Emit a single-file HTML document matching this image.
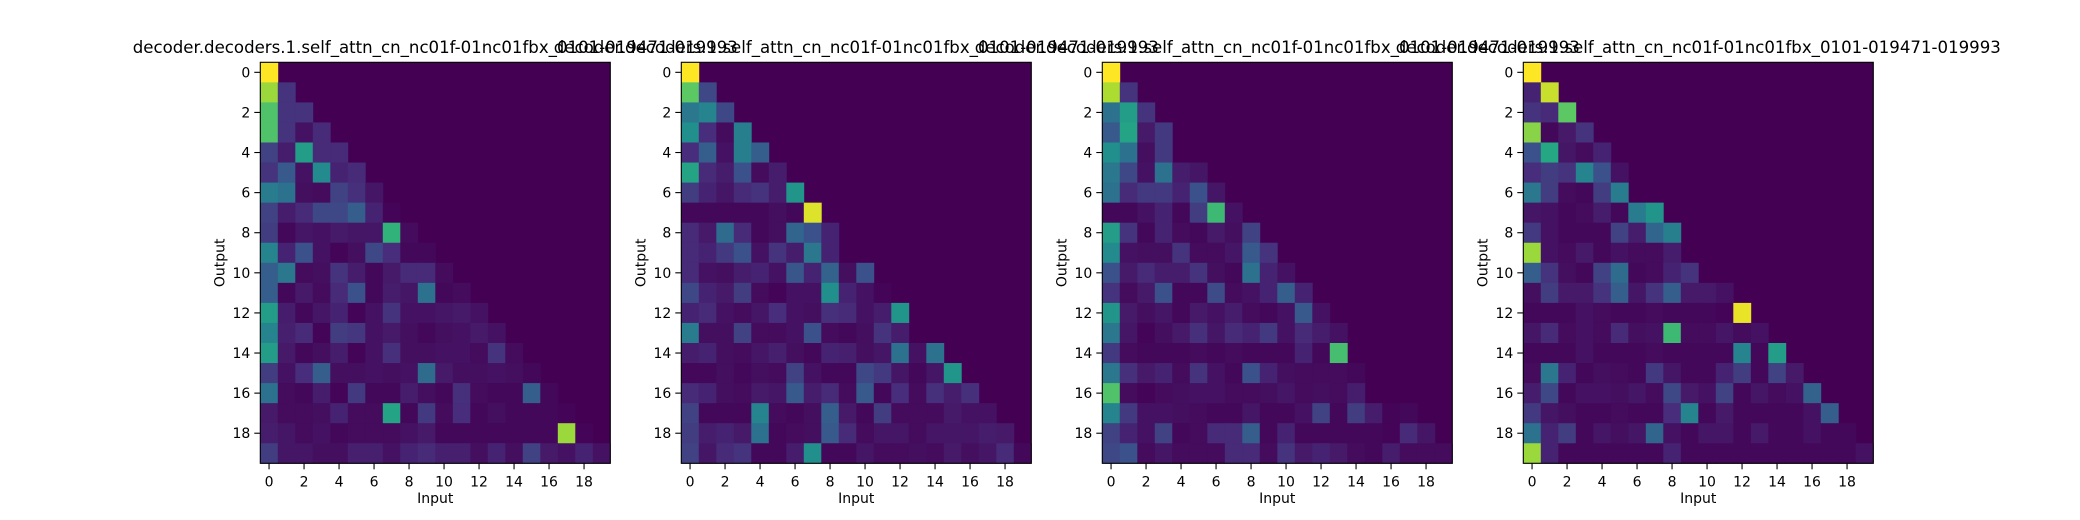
<!DOCTYPE html>
<html><head><meta charset="utf-8">
<style>
html,body{margin:0;padding:0;background:#fff;}
svg{display:block;font-family:"DejaVu Sans","Liberation Sans",sans-serif;}
</style></head>
<body>
<svg id="fig" width="2080" height="520" viewBox="0 0 2080 520" xmlns="http://www.w3.org/2000/svg"></svg>
<script>
const titles = [
 "decoder.decoders.1.self_attn_cn_nc01f-01nc01fbx_0101-019471-019993",
 "decoder.decoders.1.self_attn_cn_nc01f-01nc01fbx_0101-019471-019993",
 "decoder.decoders.1.self_attn_cn_nc01f-01nc01fbx_0101-019471-019993",
 "decoder.decoders.1.self_attn_cn_nc01f-01nc01fbx_0101-019471-019993"
];
const tickLabels = [0,2,4,6,8,10,12,14,16,18];
const attn1 = [
[1],
[0.85,0.15],
[0.72,0.15,0.15],
[0.72,0.15,0.05,0.12],
[0.2,0.08,0.55,0.12,0.12],
[0.15,0.28,0.05,0.48,0.1,0.12],
[0.42,0.38,0.04,0.03,0.2,0.14,0.06],
[0.2,0.08,0.12,0.22,0.22,0.3,0.1,0.01],
[0.18,0.02,0.06,0.05,0.07,0.06,0.06,0.65,0.03],
[0.45,0.1,0.25,0.05,0.01,0.04,0.22,0.13,0.02,0.02],
[0.3,0.4,0.03,0.04,0.15,0.08,0.02,0.07,0.12,0.12,0.03],
[0.3,0.02,0.07,0.03,0.12,0.25,0.02,0.08,0.06,0.38,0.02,0.03],
[0.55,0.08,0.02,0.06,0.1,0.01,0.05,0.15,0.05,0.05,0.06,0.07,0.05],
[0.45,0.09,0.12,0.01,0.18,0.16,0.05,0.07,0.04,0.02,0.04,0.05,0.07,0.05],
[0.55,0.07,0.02,0.04,0.08,0.01,0.05,0.14,0.04,0.04,0.05,0.05,0.03,0.15,0.03],
[0.18,0.05,0.13,0.3,0.04,0.04,0.05,0.04,0.05,0.35,0.07,0.04,0.04,0.05,0.04,0.02],
[0.38,0.03,0.02,0.08,0.01,0.17,0.02,0.02,0.08,0.04,0.02,0.14,0.03,0.02,0.02,0.3,0.02],
[0.07,0.03,0.03,0.04,0.1,0.03,0.03,0.58,0.02,0.17,0.03,0.13,0.02,0.04,0.02,0.02,0.02,0.01],
[0.08,0.06,0.03,0.05,0.02,0.03,0.03,0.03,0.05,0.07,0.02,0.02,0.02,0.02,0.02,0.02,0.02,0.85,0.01],
[0.18,0.06,0.06,0.04,0.04,0.09,0.09,0.05,0.1,0.12,0.09,0.09,0.04,0.1,0.04,0.2,0.07,0.05,0.1,0.05]
];
const attn2 = [
[1],
[0.75,0.22],
[0.4,0.45,0.22],
[0.5,0.13,0.03,0.43],
[0.13,0.3,0.05,0.43,0.3],
[0.58,0.12,0.08,0.25,0.03,0.08],
[0.18,0.1,0.06,0.12,0.15,0.08,0.52],
[0.02,0.02,0.02,0.02,0.02,0.04,0.02,0.95],
[0.12,0.07,0.35,0.12,0.02,0.04,0.33,0.25,0.1],
[0.12,0.1,0.17,0.25,0.05,0.15,0.08,0.4,0.1],
[0.12,0.05,0.04,0.08,0.1,0.05,0.27,0.1,0.32,0.04,0.25],
[0.22,0.1,0.07,0.18,0.03,0.01,0.05,0.05,0.5,0.1,0.05,0.01],
[0.1,0.12,0.05,0.03,0.06,0.13,0.05,0.04,0.14,0.12,0.05,0.08,0.52],
[0.42,0.04,0.04,0.2,0.03,0.03,0.05,0.25,0.03,0.02,0.04,0.15,0.08],
[0.08,0.1,0.04,0.03,0.06,0.09,0.04,0.02,0.1,0.09,0.04,0.06,0.38,0.05,0.38],
[0.02,0.02,0.04,0.02,0.04,0.03,0.2,0.05,0.02,0.02,0.22,0.17,0.06,0.02,0.06,0.52],
[0.12,0.1,0.04,0.03,0.07,0.06,0.28,0.08,0.12,0.03,0.28,0.02,0.13,0.03,0.14,0.08,0.14],
[0.2,0.02,0.02,0.02,0.45,0.03,0.02,0.04,0.3,0.07,0.02,0.18,0.03,0.03,0.03,0.07,0.05,0.05],
[0.18,0.08,0.1,0.07,0.38,0.02,0.03,0.04,0.28,0.12,0.03,0.06,0.06,0.03,0.06,0.06,0.06,0.08,0.07],
[0.2,0.06,0.12,0.15,0.02,0.02,0.08,0.5,0.02,0.02,0.06,0.03,0.03,0.04,0.03,0.07,0.04,0.06,0.12,0.02]
];
const attn3 = [
[1],
[0.88,0.15],
[0.38,0.55,0.15],
[0.28,0.58,0.07,0.17],
[0.5,0.38,0.04,0.17],
[0.4,0.22,0.05,0.38,0.08,0.06],
[0.38,0.12,0.17,0.17,0.1,0.25,0.06],
[0.02,0.02,0.05,0.1,0.02,0.18,0.68,0.05],
[0.55,0.15,0.02,0.1,0.03,0.02,0.07,0.04,0.2],
[0.48,0.05,0.04,0.04,0.15,0.03,0.03,0.06,0.28,0.15],
[0.25,0.07,0.12,0.08,0.08,0.15,0.04,0.02,0.38,0.1,0.05],
[0.15,0.03,0.07,0.25,0.02,0.02,0.23,0.03,0.05,0.1,0.3,0.1],
[0.52,0.07,0.04,0.06,0.02,0.07,0.05,0.08,0.03,0.02,0.05,0.28,0.05],
[0.4,0.06,0.01,0.04,0.07,0.14,0.06,0.12,0.1,0.17,0.05,0.12,0.08,0.05],
[0.17,0.03,0.02,0.02,0.02,0.03,0.02,0.03,0.02,0.02,0.02,0.1,0.02,0.7],
[0.4,0.14,0.07,0.1,0.03,0.15,0.05,0.02,0.25,0.1,0.04,0.03,0.03,0.03,0.02],
[0.72,0.03,0.01,0.03,0.04,0.05,0.05,0.03,0.03,0.04,0.06,0.03,0.04,0.03,0.08],
[0.45,0.17,0.05,0.05,0.04,0.03,0.02,0.02,0.06,0.02,0.02,0.05,0.2,0.02,0.18,0.08,0.01,0.02],
[0.2,0.1,0.05,0.2,0.02,0.03,0.12,0.12,0.3,0.02,0.1,0.02,0.02,0.02,0.02,0.02,0.01,0.12,0.06],
[0.22,0.25,0.03,0.06,0.03,0.03,0.03,0.12,0.12,0.03,0.15,0.07,0.1,0.07,0.03,0.02,0.08,0.03,0.03,0.03]
];
const attn4 = [
[1],
[0.1,0.92],
[0.15,0.12,0.75],
[0.82,0.02,0.07,0.15],
[0.25,0.6,0.06,0.03,0.1],
[0.13,0.18,0.15,0.45,0.25,0.05],
[0.4,0.18,0.03,0.02,0.18,0.42],
[0.06,0.05,0.02,0.03,0.08,0.02,0.42,0.52],
[0.17,0.05,0.02,0.02,0.02,0.2,0.08,0.33,0.43],
[0.85,0.05,0.03,0.07,0.02,0.05,0.03,0.03,0.08],
[0.3,0.15,0.04,0.02,0.2,0.35,0.02,0.03,0.1,0.15],
[0.04,0.18,0.07,0.07,0.15,0.3,0.06,0.15,0.3,0.07,0.07,0.05],
[0.02,0.02,0.02,0.05,0.03,0.02,0.02,0.03,0.02,0.02,0.02,0.01,0.97],
[0.06,0.12,0.03,0.05,0.03,0.12,0.04,0.05,0.68,0.03,0.03,0.06,0.03,0.05],
[0.02,0.02,0.02,0.05,0.02,0.02,0.02,0.03,0.02,0.02,0.02,0.02,0.45,0.02,0.55],
[0.03,0.4,0.1,0.02,0.04,0.03,0.02,0.17,0.06,0.02,0.02,0.1,0.18,0.02,0.2,0.07],
[0.08,0.22,0.02,0.05,0.05,0.04,0.06,0.03,0.22,0.07,0.05,0.2,0.02,0.06,0.03,0.05,0.32],
[0.17,0.06,0.04,0.02,0.02,0.03,0.02,0.02,0.13,0.45,0.02,0.07,0.02,0.02,0.02,0.02,0.05,0.3],
[0.38,0.1,0.18,0.02,0.06,0.04,0.06,0.33,0.05,0.02,0.06,0.06,0.02,0.07,0.02,0.02,0.05,0.02,0.02],
[0.85,0.1,0.02,0.02,0.02,0.02,0.02,0.02,0.1,0.02,0.02,0.02,0.02,0.02,0.02,0.02,0.02,0.02,0.02,0.05]
];
const panels = [attn1, attn2, attn3, attn4];

const N = 20;
const axLefts = [260.3, 681.3, 1102.3, 1523.3];
const axTop = 62.3, axW = 350, axH = 401;
const VIR = [[0,[68,1,84]],[0.125,[71,44,122]],[0.25,[59,81,139]],[0.375,[44,113,142]],[0.5,[33,144,141]],[0.625,[39,173,129]],[0.75,[92,200,99]],[0.875,[170,220,50]],[1,[253,231,37]]];
function viridis(t){
  t=Math.max(0,Math.min(1,t));
  for(let i=1;i<VIR.length;i++){
    if(t<=VIR[i][0]){
      const [t0,c0]=VIR[i-1],[t1,c1]=VIR[i];const f=(t-t0)/(t1-t0);
      return 'rgb('+c0.map((c,k)=>Math.round(c+(c1[k]-c)*f)).join(',')+')';
    }
  }
  return 'rgb(253,231,37)';
}
const NS='http://www.w3.org/2000/svg';
const svg=document.getElementById('fig');
function mk(tag,attrs,parent){const e=document.createElementNS(NS,tag);for(const k in attrs)e.setAttribute(k,attrs[k]);(parent||svg).appendChild(e);return e;}

panels.forEach((data,p)=>{
  const x0=axLefts[p];
  const cw=axW/N, ch=axH/N;
  const xs=i=>x0+i*cw, ys=j=>axTop+j*ch;
  const g=mk('g',{});
  
  
  let maxV=0;data.forEach(r=>r.forEach(v=>{if(v>maxV)maxV=v;}));
  const bg=mk('rect',{x:x0,y:axTop,width:axW,height:axH,fill:viridis(0)},g);
  
  
  data.forEach((row,j)=>row.forEach((v,i)=>{
    const r=mk('rect',{x:xs(i).toFixed(2),y:ys(j).toFixed(2),width:(cw+0.4).toFixed(2),height:(ch+0.4).toFixed(2),fill:viridis(v/maxV)},g);
    
    
  }));
  const fr=mk('rect',{x:x0,y:axTop,width:axW,height:axH,fill:'none',stroke:'#000','stroke-width':1.1},g);
  
  
  tickLabels.forEach(t=>{
    const cx=xs(t)+cw/2, cy=ys(t)+ch/2;
    mk('line',{x1:cx,y1:axTop+axH,x2:cx,y2:axTop+axH+6,stroke:'#000','stroke-width':1.1},g);
    const tx=mk('text',{x:cx,y:axTop+axH+23,'font-size':14,'text-anchor':'middle',fill:'#000'},g);
    tx.textContent=t;
    
    
    mk('line',{x1:x0,y1:cy,x2:x0-6,y2:cy,stroke:'#000','stroke-width':1.1},g);
    const ty=mk('text',{x:x0-10,y:cy+5,'font-size':14,'text-anchor':'end',fill:'#000'},g);
    ty.textContent=t;
    
    
  });
  const xl=mk('text',{x:x0+axW/2,y:503,'font-size':14,'text-anchor':'middle',fill:'#000'},g);
  xl.textContent='Input';
  
  
  const yl=mk('text',{x:0,y:0,'font-size':14,'text-anchor':'middle',fill:'#000',transform:'translate('+(x0-36)+','+(axTop+axH/2)+') rotate(-90)'},g);
  yl.textContent='Output';
  
  
  const tt=mk('text',{x:x0+axW/2,y:53,'font-size':16.6,'text-anchor':'middle',fill:'#000'},g);
  tt.textContent=titles[p];
  
  
});
</script>
</body></html>
